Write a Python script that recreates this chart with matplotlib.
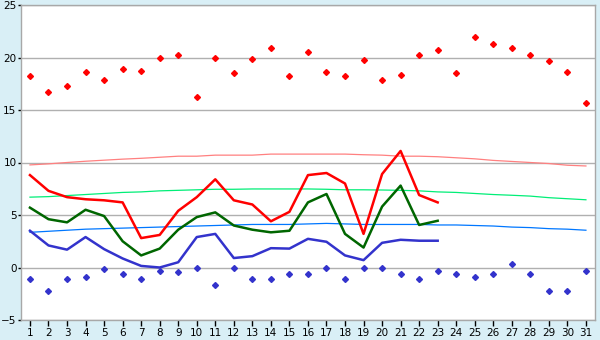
import numpy as np
import matplotlib
matplotlib.use('Agg')
import matplotlib.pyplot as plt

# 日期
days = list(range(1, 32))
obs_days = list(range(1, 24))

# 实测最高/平均/最低气温 (1-23日)
t_max = [8.8, 7.3, 6.7, 6.5, 6.4, 6.2, 2.8, 3.1, 5.4, 6.7, 8.4, 6.4, 6.0, 4.4, 5.3,
         8.8, 9.0, 8.0, 3.2, 8.9, 11.1, 6.9, 6.2]
t_mean = [5.7, 4.6, 4.3, 5.5, 4.9, 2.5, 1.15, 1.8, 3.6, 4.8, 5.25, 4.0, 3.6, 3.35, 3.5,
          6.2, 7.0, 3.2, 1.9, 5.8, 7.8, 4.05, 4.45]
t_min = [3.5, 2.1, 1.7, 2.9, 1.75, 0.86, 0.15, 0.0, 0.5, 2.9, 3.2, 0.9, 1.08, 1.84, 1.8,
         2.73, 2.45, 1.15, 0.7, 2.35, 2.64, 2.55, 2.55]

# 常年值
norm_max = [9.77, 9.87, 10.0, 10.12, 10.22, 10.32, 10.4, 10.5, 10.6, 10.6, 10.7, 10.7,
            10.7, 10.8, 10.8, 10.8, 10.8, 10.8, 10.74, 10.7, 10.6, 10.6, 10.55, 10.45,
            10.35, 10.2, 10.1, 10.0, 9.9, 9.74, 9.67]
norm_mean = [6.7, 6.75, 6.85, 6.95, 7.05, 7.15, 7.2, 7.3, 7.35, 7.4, 7.45, 7.45, 7.48,
             7.48, 7.48, 7.48, 7.45, 7.4, 7.4, 7.38, 7.35, 7.3, 7.2, 7.15, 7.05, 6.95,
             6.88, 6.8, 6.65, 6.55, 6.45]
norm_min = [3.35, 3.45, 3.55, 3.65, 3.7, 3.75, 3.8, 3.85, 3.9, 3.95, 4.0, 4.05, 4.1,
            4.1, 4.1, 4.15, 4.2, 4.15, 4.1, 4.1, 4.1, 4.1, 4.05, 4.05, 4.0, 3.95, 3.85,
            3.8, 3.7, 3.65, 3.55]

# 极值记录
rec_max = [18.2, 16.7, 17.3, 18.6, 17.9, 18.9, 18.7, 20.0, 20.2, 16.2, 20.0, 18.5, 19.9,
           20.9, 18.2, 20.5, 18.6, 18.2, 19.8, 17.9, 18.3, 20.2, 20.7, 18.5, 22.0, 21.3,
           20.9, 20.2, 19.7, 18.6, 15.7]
rec_min = [-1.1, -2.2, -1.1, -0.9, -0.1, -0.6, -1.1, -0.3, -0.4, 0.0, -1.7, 0.0, -1.1,
           -1.1, -0.6, -0.6, 0.0, -1.1, 0.0, 0.0, -0.6, -1.1, -0.3, -0.6, -0.9, -0.6,
           0.3, -0.6, -2.2, -2.2, -0.3]

fig = plt.figure(figsize=(6, 3.4), dpi=100, facecolor='#d9eff6')
ax = fig.add_axes([20.7 / 600, 20 / 340, 574.5 / 600, 315 / 340])
ax.set_facecolor('white')

# 网格
ax.set_ylim(-5, 25)
ax.set_xlim(0.5, 31.5)
ax.set_yticks(range(-5, 26, 5))
ax.set_xticks(days)
ax.yaxis.grid(True, color='#b0b0b0', lw=1)
ax.set_axisbelow(True)

# 常年值曲线
ax.plot(days, norm_max, color='#ff8080', lw=0.9)
ax.plot(days, norm_mean, color='#00ee77', lw=0.9)
ax.plot(days, norm_min, color='#0077ff', lw=0.9)

# 实测曲线
ax.plot(obs_days, t_max, color='#ff0000', lw=1.8)
ax.plot(obs_days, t_mean, color='#006600', lw=1.8)
ax.plot(obs_days, t_min, color='#3333cc', lw=1.8)

# 极值点
ax.plot(days, rec_max, 'D', color='#ff0000', ms=3, mec='#ff0000', ls='none')
ax.plot(days, rec_min, 'D', color='#3333cc', ms=3, mec='#3333cc', ls='none')

for s in ax.spines.values():
    s.set_color('#a8a8a8')
    s.set_linewidth(1)

ax.tick_params(axis='y', labelsize=7.5, length=2.5, width=1, color='black', pad=0.5)
ax.tick_params(axis='x', labelsize=7.5, length=4, width=1, color='black', pad=2)

plt.savefig('out.png', dpi=100, facecolor=fig.get_facecolor())
plt.close()
